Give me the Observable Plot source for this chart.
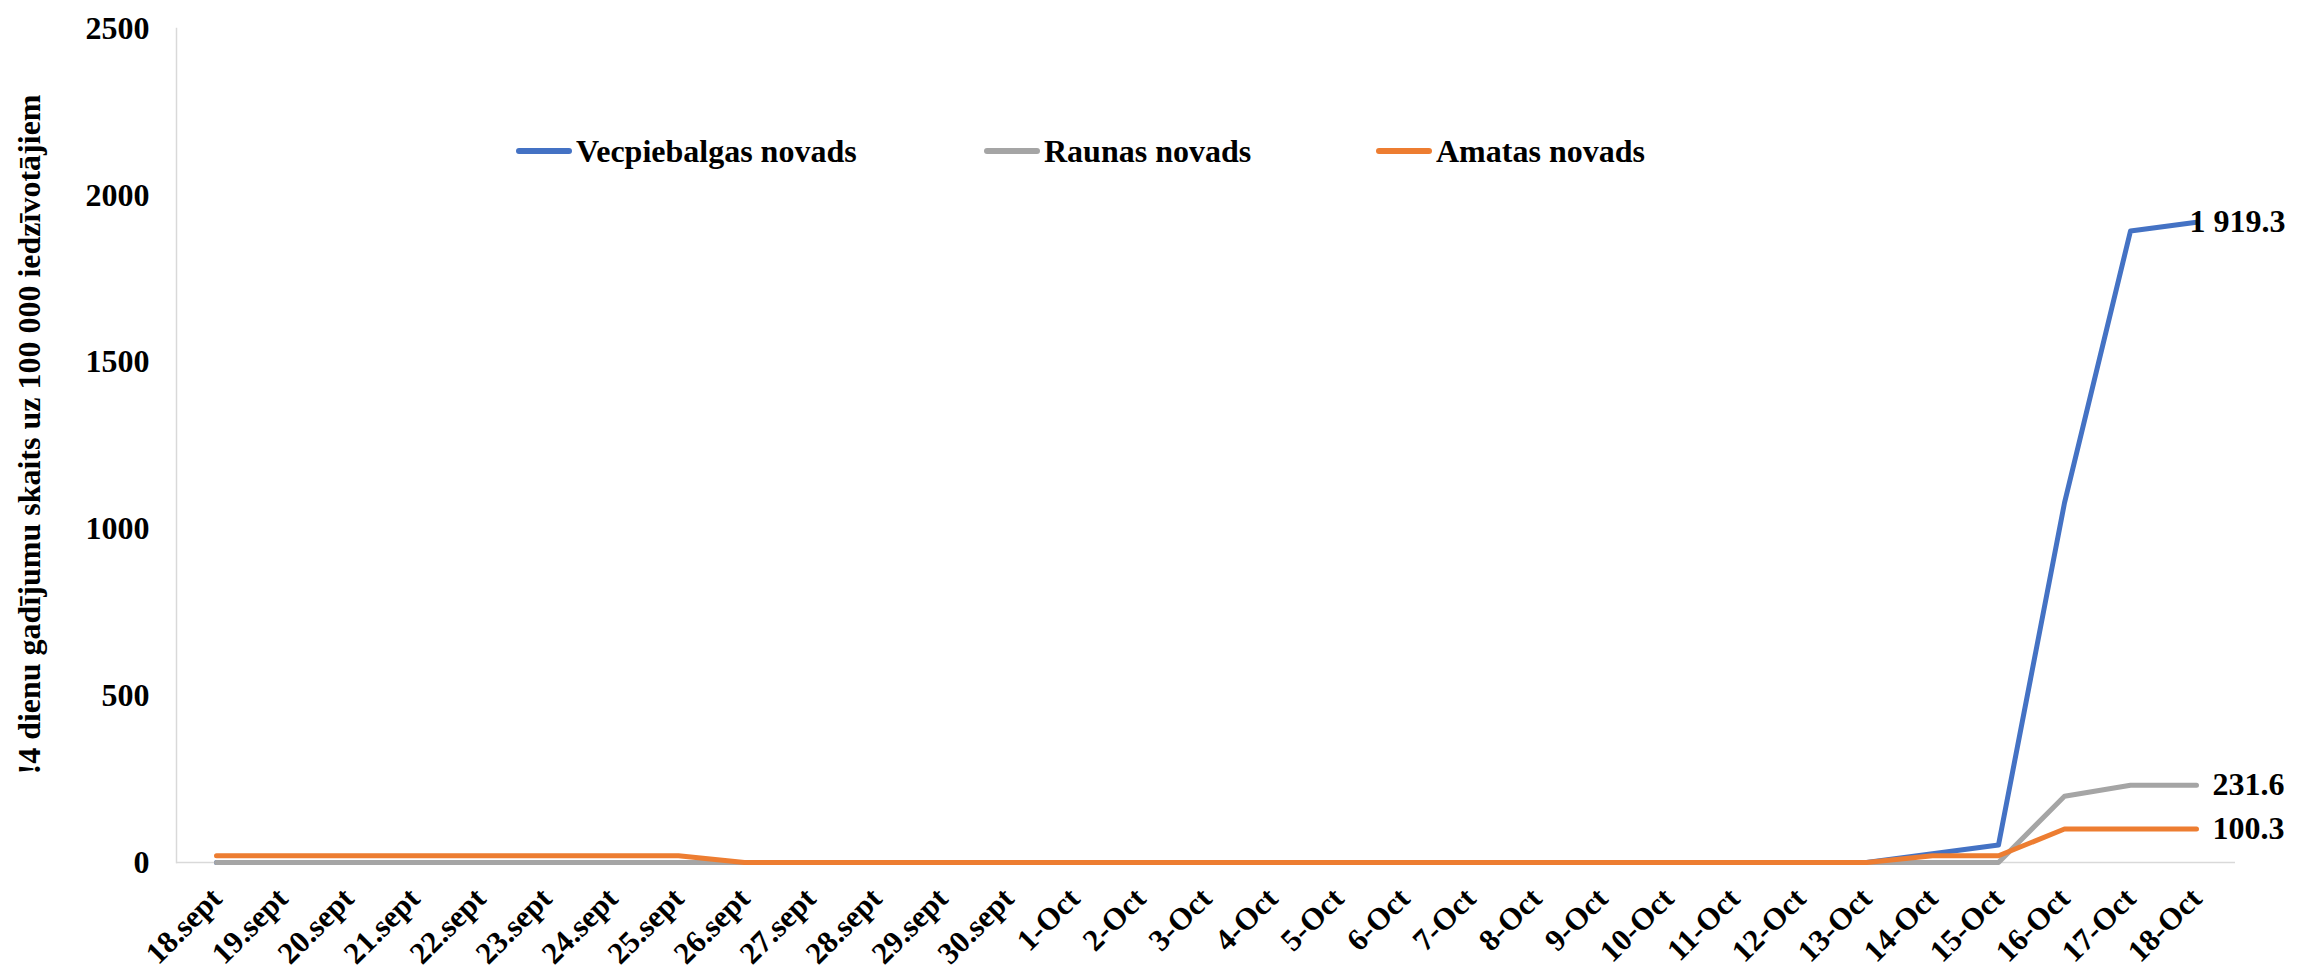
<!DOCTYPE html>
<html><head><meta charset="utf-8">
<script src="https://cdn.jsdelivr.net/npm/d3@7"></script>
<script src="https://cdn.jsdelivr.net/npm/@observablehq/plot@0.6"></script>
<style>
body{margin:0;background:#fff;}
#wrap{position:relative;width:2298px;height:972px;font-family:"Liberation Serif","Times New Roman",serif;font-weight:bold;color:#000;}
.leg{position:absolute;top:131px;height:40px;display:flex;align-items:center;font-size:32px;white-space:nowrap;}
.leg .sw{width:56px;height:6px;border-radius:3px;margin-right:4px;}
</style></head>
<body><div id="wrap"></div>
<script>
const dates = ["18.sept","19.sept","20.sept","21.sept","22.sept","23.sept","24.sept","25.sept","26.sept","27.sept","28.sept","29.sept","30.sept",
  "1-Oct","2-Oct","3-Oct","4-Oct","5-Oct","6-Oct","7-Oct","8-Oct","9-Oct","10-Oct","11-Oct","12-Oct","13-Oct","14-Oct","15-Oct","16-Oct","17-Oct","18-Oct"];
const vecpiebalgas = [0,0,0,0,0,0,0,0,0,0,0,0,0, 0,0,0,0,0,0,0,0,0,0,0,0,0, 26.3,52.6,1078.0,1893.0,1919.3];
const raunas       = [0,0,0,0,0,0,0,0,0,0,0,0,0, 0,0,0,0,0,0,0,0,0,0,0,0,0, 0,0,198.5,231.6,231.6];
const amatas       = [20.1,20.1,20.1,20.1,20.1,20.1,20.1,20.1,0,0,0,0,0, 0,0,0,0,0,0,0,0,0,0,0,0,0, 20.1,20.1,100.3,100.3,100.3];
const seriesNames = ["Vecpiebalgas novads","Raunas novads","Amatas novads"];
const seriesColors = ["#4472C4","#A5A5A5","#ED7D31"];
const yTicks = [0,500,1000,1500,2000,2500];
const yLabel = "!4 dienu gadījumu skaits uz 100 000 iedzīvotājiem";

const rows = [];
[vecpiebalgas, raunas, amatas].forEach((vals, i) =>
  vals.forEach((v, j) => rows.push({series: seriesNames[i], date: dates[j], value: v})));
const lastPts = seriesNames.map(s => rows.filter(r => r.series === s).at(-1));
const fmt = d3.formatLocale({decimal: ".", thousands: " ", grouping: [3], currency: ["", ""]}).format(",.1f");

const chart = Plot.plot({
  width: 2298, height: 972,
  marginLeft: 176, marginRight: 63, marginTop: 28, marginBottom: 110,
  style: {fontFamily: '"Liberation Serif","Times New Roman",serif', fontWeight: "bold", fontSize: "32px", color: "#000", background: "#fff"},
  x: {type: "point", domain: dates, padding: 0.5},
  y: {domain: [0, 2500]},
  color: {domain: seriesNames, range: seriesColors},
  marks: [
    Plot.ruleY([0], {stroke: "#d9d9d9", strokeWidth: 1.5}),
    Plot.frame({anchor: "left", stroke: "#d9d9d9", strokeWidth: 1.5}),
    Plot.axisY({ticks: yTicks, tickFormat: "d", tickSize: 0, tickPadding: 27, fontSize: 32, label: null}),
    Plot.axisX({tickRotate: -45, tickSize: 0, tickPadding: 31, fontSize: 31, label: null}),
    Plot.lineY(rows, {x: "date", y: "value", z: "series", stroke: "series", strokeWidth: 5, strokeLinejoin: "round", strokeLinecap: "round"}),
    Plot.text(lastPts.slice(0, 1), {x: "date", y: "value", text: d => fmt(d.value), textAnchor: "start", dx: -7, fontSize: 32, fontWeight: "bold", fill: "#000"}),
    Plot.text(lastPts.slice(1), {x: "date", y: "value", text: d => fmt(d.value), textAnchor: "start", dx: 16, fontSize: 32, fontWeight: "bold", fill: "#000"}),
    Plot.text([yLabel], {frameAnchor: "left", textAnchor: "middle", rotate: -90, dx: -147, dy: -11, fontSize: 32, fontWeight: "bold", fill: "#000"})
  ]
});
const wrap = document.getElementById("wrap");
wrap.appendChild(chart);
const legLeft = [516, 984, 1376];
seriesNames.forEach((name, i) => {
  const d = document.createElement("div");
  d.className = "leg";
  d.style.left = legLeft[i] + "px";
  d.innerHTML = `<span class="sw" style="background:${seriesColors[i]}"></span><span>${name}</span>`;
  wrap.appendChild(d);
});
</script>
</body></html>
